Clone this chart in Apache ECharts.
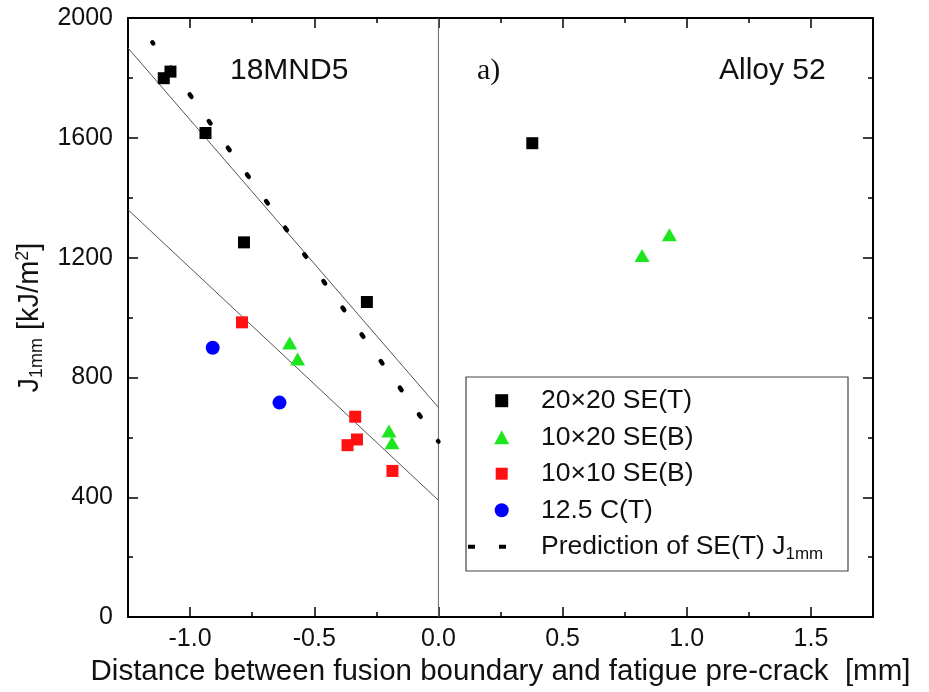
<!DOCTYPE html>
<html><head><meta charset="utf-8">
<script src="https://cdn.jsdelivr.net/npm/echarts@6/dist/echarts.min.js"></script>
<style>html,body{margin:0;padding:0;background:#fff}#c{width:929px;height:692px}</style>
</head><body><div id="c"></div>
<script>
// ---- data ----
const names = ['20×20 SE(T)', '10×20 SE(B)', '10×10 SE(B)', '12.5 C(T)', 'Prediction of SE(T) J1mm'];
const x20x20 = [-1.106, -1.079, -0.938, -0.783, -0.288, 0.378];
const y20x20 = [1799, 1821, 1616, 1251, 1052, 1582];
const x10x20 = [-0.599, -0.567, -0.199, -0.187, 0.820, 0.930];
const y10x20 = [915, 862, 621, 582, 1207, 1276];
const x10x10 = [-0.791, -0.335, -0.328, -0.366, -0.185];
const y10x10 = [984, 669, 593, 574, 488];
const xCT = [-0.909, -0.640];
const yCT = [899, 716];
const predX = [-1.152, 0];
const predY = [1919, 586];
const fitX = [-1.25, 0];
const fitUpperY = [1900, 700];
const fitLowerY = [1360, 390];
const zeroX = [0, 0];
const zeroY = [0, 2000];
const xMajorTicks = [-1.0, -0.5, 0.0, 0.5, 1.0, 1.5];

const zip = (a, b) => a.map((v, i) => [v, b[i]]);
const FONT = 'Liberation Sans, Arial, sans-serif';
const INK = '#111';

const chart = echarts.init(document.getElementById('c'), null, {renderer: 'canvas'});

const axisLineStyle = {color: '#000', width: 2};
const tickStyle = {color: '#000', width: 1.5};

function xAxisDef(pos, major, withLabels) {
  const a = {
    type: 'value', position: pos, min: -1.25, max: 1.75, interval: 0.25,
    gridIndex: 0,
    splitLine: {show: false},
    axisLine: {show: major, onZero: false, lineStyle: axisLineStyle},
    axisTick: major
      ? {show: true, inside: true, length: 10, lineStyle: tickStyle, customValues: xMajorTicks}
      : {show: true, inside: true, length: 5, lineStyle: tickStyle},
    axisLabel: {show: false}
  };
  if (withLabels) {
    a.axisLabel = {show: true, customValues: xMajorTicks, margin: 10,
      formatter: v => Number(v).toFixed(1), color: INK, fontSize: 25, fontFamily: FONT};
    a.name = 'Distance between fusion boundary and fatigue pre-crack  [mm]';
    a.nameLocation = 'middle';
    a.nameGap = 35;
    a.nameTextStyle = {color: INK, fontSize: 29.5, fontFamily: FONT};
  }
  return a;
}
function yAxisDef(pos, withLabels) {
  const a = {
    type: 'value', position: pos, min: 0, max: 2000, interval: 400,
    splitLine: {show: false},
    axisLine: {show: true, onZero: false, lineStyle: axisLineStyle},
    axisTick: {show: true, inside: true, length: 10, lineStyle: tickStyle},
    minorTick: {show: true, splitNumber: 2, length: 5, lineStyle: tickStyle},
    minorSplitLine: {show: false},
    axisLabel: {show: false}
  };
  if (withLabels) {
    a.axisLabel = {show: true, margin: 15, color: INK, fontSize: 25, fontFamily: FONT,
      formatter: v => String(v)};
    a.name = 'J{sub|1mm} [kJ/m{sup|2}]';
    a.nameLocation = 'middle';
    a.nameGap = 58;
    a.nameTextStyle = {color: INK, fontSize: 29, fontFamily: FONT, lineHeight: 32,
      rich: {
        sub: {fontSize: 18, fontFamily: FONT, color: INK, verticalAlign: 'bottom', lineHeight: 32},
        sup: {fontSize: 18, fontFamily: FONT, color: INK, verticalAlign: 'top', lineHeight: 32}
      }};
  }
  return a;
}

const iconBox = 'path://M0 0 M68 14 ';
const icons = {
  sq: iconBox + 'M27.2 0.5 L40.2 0.5 L40.2 13.5 L27.2 13.5 Z',
  tri: iconBox + 'M33.7 0 L41.2 14 L26.2 14 Z',
  sqr: iconBox + 'M27.7 1 L39.7 1 L39.7 13 L27.7 13 Z',
  circ: iconBox + 'M26.7 7 A7 7 0 1 1 40.7 7 A7 7 0 1 1 26.7 7 Z',
  dots: iconBox + 'M0 5 L7 5 L7 9 L0 9 Z M31 5 L38 5 L38 9 L31 9 Z'
};

const option = {
  backgroundColor: '#fff',
  animation: false,
  grid: {left: 128, top: 18, width: 745, height: 600, containLabel: false},
  xAxis: [
    xAxisDef('bottom', true, true),
    xAxisDef('bottom', false, false),
    xAxisDef('top', true, false),
    xAxisDef('top', false, false)
  ],
  yAxis: [yAxisDef('left', true), yAxisDef('right', false)],
  legend: {
    orient: 'vertical', left: 468, top: 384.7, padding: 0,
    itemWidth: 68, itemHeight: 14, itemGap: 4.5,
    selectedMode: false,
    textStyle: {color: INK, fontSize: 26.5, fontFamily: FONT, lineHeight: 32,
      rich: {sub: {fontSize: 17, fontFamily: FONT, color: INK, verticalAlign: 'bottom', lineHeight: 32}}},
    formatter: n => n === names[4] ? 'Prediction of SE(T) J{sub|1mm}' : n,
    data: [
      {name: names[0], icon: icons.sq, itemStyle: {borderWidth: 0, opacity: 1}},
      {name: names[1], icon: icons.tri, itemStyle: {borderWidth: 0, opacity: 1}},
      {name: names[2], icon: icons.sqr, itemStyle: {borderWidth: 0, opacity: 1}},
      {name: names[3], icon: icons.circ, itemStyle: {borderWidth: 0, opacity: 1}},
      {name: names[4], icon: icons.dots, itemStyle: {borderWidth: 0, color: '#000', opacity: 1}}
    ]
  },
  graphic: [
    {type: 'rect', z: 0, shape: {x: 466, y: 377, width: 382, height: 194},
      style: {fill: 'none', stroke: '#444', lineWidth: 1.2}},
    {type: 'text', left: 230, top: 56, z: 10,
      style: {text: '18MND5', font: '30px Liberation Sans, Arial, sans-serif', fill: INK}},
    {type: 'text', left: 477, top: 56, z: 10,
      style: {text: 'a)', font: '30px Liberation Serif, Times New Roman, serif', fill: INK}},
    {type: 'text', left: 719, top: 56, z: 10,
      style: {text: 'Alloy 52', font: '30px Liberation Sans, Arial, sans-serif', fill: INK}}
  ],
  series: [
    {name: 'zero', type: 'line', data: zip(zeroX, zeroY), symbol: 'none', silent: true,
      lineStyle: {color: '#666', width: 1}, z: 1},
    {name: 'fitUpper', type: 'line', data: zip(fitX, fitUpperY), symbol: 'none', silent: true,
      lineStyle: {color: '#555', width: 1}, z: 1},
    {name: 'fitLower', type: 'line', data: zip(fitX, fitLowerY), symbol: 'none', silent: true,
      lineStyle: {color: '#555', width: 1}, z: 1},
    {name: names[0], type: 'scatter', data: zip(x20x20, y20x20), symbol: 'rect', symbolSize: 12,
      itemStyle: {color: '#000', opacity: 1}, z: 3},
    {name: names[1], type: 'scatter', data: zip(x10x20, y10x20), symbol: 'triangle', symbolSize: [15, 13],
      itemStyle: {color: '#1ee61e', opacity: 1}, z: 3},
    {name: names[2], type: 'scatter', data: zip(x10x10, y10x10), symbol: 'rect', symbolSize: 12,
      itemStyle: {color: '#ff1111', opacity: 1}, z: 3},
    {name: names[3], type: 'scatter', data: zip(xCT, yCT), symbol: 'circle', symbolSize: 14,
      itemStyle: {color: '#0000ff', opacity: 1}, z: 3},
    {name: names[4], type: 'line', data: zip(predX, predY), symbol: 'none', z: 4,
      itemStyle: {color: '#000'},
      lineStyle: {color: '#000', width: 4.5, type: [3, 29.8], cap: 'round', dashOffset: 1.5}}
  ]
};
chart.setOption(option);
</script>
</body></html>
